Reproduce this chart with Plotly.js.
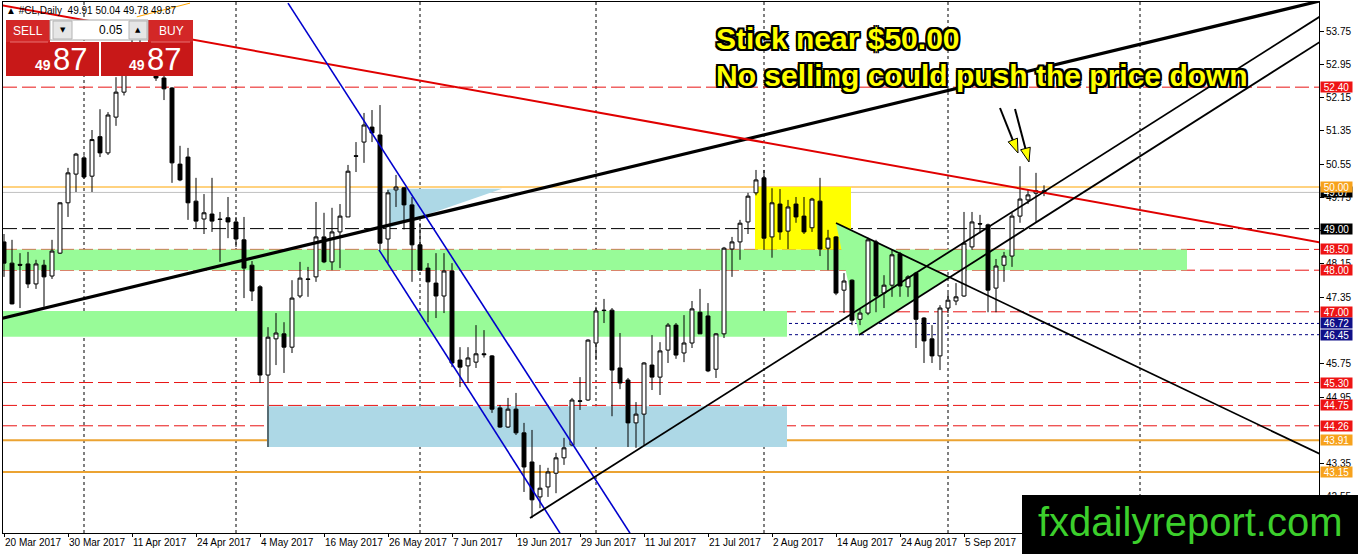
<!DOCTYPE html>
<html><head><meta charset="utf-8">
<script src="https://cdn.plot.ly/plotly-3.0.1.min.js"></script>
<style>html,body{margin:0;padding:0;background:#fff;}#chart{width:1358px;height:554px;}</style>
</head><body><div id="chart"></div>
<script>
// ---------- DATA ----------
const openP = [48.68,48.17,48.14,48.15,47.67,48.12,47.86,48.41,49.62,50.31,50.70,50.26,51.21,50.82,51.68,52.28,53.00,53.40,53.05,53.15,
52.62,52.38,50.55,50.72,49.66,49.23,49.35,49.23,49.26,49.16,48.73,48.12,47.60,45.48,46.35,46.47,46.15,47.38,47.79,47.84,
48.80,48.20,48.92,49.28,50.75,51.08,51.44,51.25,48.75,49.93,49.98,49.57,48.61,48.05,47.69,47.38,47.98,45.84,45.70,45.79,
45.99,45.94,44.69,44.23,44.66,44.09,43.39,42.55,42.79,43.12,43.49,43.80,44.86,44.88,46.25,47.04,47.04,45.65,45.36,44.33,
44.54,45.72,45.43,46.08,46.68,46.01,46.25,46.99,46.90,45.62,46.47,48.51,48.68,49.16,49.86,50.22,48.80,49.59,48.94,49.59,
49.30,49.02,49.66,48.53,48.80,47.52,47.76,46.82,46.97,48.68,47.45,47.64,48.39,47.60,47.93,46.85,46.35,45.94,47.09,47.26,
47.38,48.56,49.12,49.09,47.57,48.12,48.34,49.30,49.69,49.85,49.91];
const highP = [48.87,48.73,48.41,48.44,48.25,48.25,48.73,49.63,50.46,50.82,50.76,51.37,51.87,51.80,52.64,53.12,53.76,53.70,53.35,53.25,
52.70,52.40,50.99,50.94,50.22,49.83,50.22,49.40,49.76,49.28,49.28,48.22,47.64,46.63,46.97,46.75,47.76,48.20,48.08,49.64,
49.38,49.50,49.59,50.53,51.08,51.78,51.85,51.97,49.93,50.29,50.00,49.76,49.13,48.17,48.41,48.41,48.17,46.15,46.15,46.68,
46.56,45.96,44.76,44.93,45.05,44.33,44.16,43.32,43.25,43.61,43.97,44.93,45.43,46.34,47.12,47.31,47.09,46.49,45.41,44.83,
45.79,46.44,46.27,46.73,46.73,46.92,47.26,47.55,47.21,46.49,48.56,48.80,49.21,49.86,50.41,50.41,49.97,49.95,49.69,49.76,
49.76,49.74,50.22,48.97,48.82,47.93,47.78,47.09,48.78,48.73,47.88,48.49,48.44,47.88,47.96,46.87,46.68,47.16,47.45,47.69,
49.40,49.40,49.33,49.12,48.27,48.44,49.38,50.50,49.93,50.34,50.04];
const lowP = [47.84,47.18,47.09,47.57,47.55,47.12,47.79,48.39,49.28,49.88,50.20,49.88,50.72,50.77,51.47,52.20,52.85,52.80,52.85,52.55,
52.09,50.10,50.14,49.21,49.01,48.87,48.92,48.20,48.77,48.56,47.33,47.26,45.29,43.75,45.72,45.53,46.01,47.33,47.36,47.72,
48.17,48.00,48.05,49.28,50.36,50.58,51.08,48.49,48.17,49.52,48.98,47.72,48.00,46.75,46.85,46.97,45.67,45.19,45.29,45.65,
45.90,44.57,44.21,44.21,44.04,42.67,42.04,42.28,42.55,42.64,43.32,43.77,44.64,44.86,45.84,46.73,44.49,45.14,43.75,43.73,
43.80,45.12,45.00,45.77,45.87,45.79,46.13,46.47,45.55,45.41,46.37,47.84,48.25,48.87,49.80,48.49,48.30,48.73,48.51,49.14,
48.87,48.92,48.34,48.00,47.40,46.97,46.68,46.68,46.92,46.99,47.09,47.36,47.36,47.36,46.13,45.77,45.77,45.60,46.97,47.16,
47.36,48.49,48.89,46.99,46.99,47.72,48.08,49.14,49.59,49.16,49.78];
const closeP = [48.17,47.19,48.12,47.67,48.15,47.84,48.46,49.62,50.34,50.79,50.24,51.14,50.82,51.73,52.28,53.00,53.40,53.05,53.20,52.62,
52.36,50.58,50.17,49.62,49.18,49.38,49.18,49.22,49.16,48.75,48.05,47.50,45.48,46.39,46.49,46.15,47.33,47.81,47.78,48.80,
48.20,48.92,49.30,50.38,50.74,51.49,51.30,48.65,49.86,50.00,49.57,48.61,48.00,47.72,47.38,47.98,45.77,45.67,45.89,45.99,
45.97,44.66,44.23,44.66,44.09,43.27,42.48,42.76,43.15,43.49,43.73,44.88,44.85,46.32,47.02,47.03,45.60,45.29,44.33,44.54,
45.77,45.43,46.06,46.68,45.96,46.25,47.07,46.47,45.58,46.47,48.53,48.68,49.13,49.78,50.17,48.77,49.62,48.92,49.52,49.28,
48.92,49.71,48.51,48.77,47.45,47.74,46.80,46.97,48.73,47.38,47.64,48.37,47.62,47.84,46.82,46.30,45.94,47.09,47.28,47.36,
48.65,49.16,49.11,47.52,48.10,48.34,49.30,49.71,49.81,49.91,49.87];

const tickIdx = [0,8,16,24,32,40,48,56,64,72,80,88,96,104,112,120];
const tickLabels = ['20 Mar 2017','30 Mar 2017','11 Apr 2017','24 Apr 2017','4 May 2017','16 May 2017','26 May 2017','7 Jun 2017',
  '19 Jun 2017','29 Jun 2017','11 Jul 2017','21 Jul 2017','2 Aug 2017','14 Aug 2017','24 Aug 2017','5 Sep 2017'];
const monthStartIdx = [10,29,52,74,95,118,142];
const priceTicks = [53.75,52.95,52.15,51.35,50.55,49.75,48.95,48.15,47.35,45.75,44.95,43.35,42.55];

const redLevels = [52.40,48.50,48.00,47.00,45.30,44.75,44.26];
const blackLevels = [49.00];
const navyLevels = [46.72,46.45];
const orangeThin = [50.00];
const orangeThick = [43.91,43.15];
const bidPrice = 49.87;
const lastBar = [49.91,50.04,49.78,49.87];

// zones: green band 1, green band 2, blue box, yellow box
const zoneX0 = [-1,-1,32.875,93.875];
const zoneX1 = [147.875,97.875,97.875,105.875];
const zoneLow = [48.00,46.40,43.75,48.50];
const zoneHigh = [48.50,47.02,44.73,50.00];
const triBlueX = [47.9,62.25,47.9], triBlueY = [49.96,49.96,49.00];
const triGreenX = [104,106.875,118.25], triGreenY = [49.135,46.442,47.85];

// trend lines [x0,y0,x1,y1]
const thickLine = [-1,46.809,165,54.495];
const redLine = [-0.5,54.375,164.5,48.67];
const blueUpper = [35.5,54.42,78.25,41.68];
const blueLower = [46.875,48.49,69.5,41.68];
const riseA = [65.75,42.043,165,54.16];
const riseB = [106.875,46.442,165,53.55];
const fallC = [104,49.135,165,43.535];
const orangeTop = [16.6,54.09,23.25,54.42];
const arrowTails = [[124.5,51.899],[126.375,51.875]];
const arrowTips = [[126.75,50.817],[128.125,50.601]];

// ---------- GEOMETRY ----------
const L=3, T=2, W=1316, H=531;
const X0=-0.125, X1=164.375, Y0=41.683, Y1=54.447;
const fx = px => (px-L)/W, fy = py => (T+H-py)/H;
const xToPx = x => L+(x-X0)/(X1-X0)*W, yToPx = y => T+(Y1-y)/(Y1-Y0)*H;
const pxToX = px => X0+(px-L)/W*(X1-X0), pxToY = py => Y1-(py-T)/H*(Y1-Y0);

const shapes = [];
const hline = (y,color,width,dash) => ({type:'line',xref:'paper',x0:0,x1:1,yref:'y',y0:y,y1:y,line:{color,width,dash},layer:'below'});
const seg = (a,color,width,dash,layer) => ({type:'line',xref:'x',yref:'y',x0:a[0],y0:a[1],x1:a[2],y1:a[3],line:{color,width,dash:dash||'solid'},layer:layer||'above'});
const zoneColors = ['#98fb98','#98fb98','#add8e6','#ffff00'];
zoneX0.forEach((x0,i)=>shapes.push({type:'rect',xref:'x',yref:'y',x0:x0,x1:zoneX1[i],y0:zoneLow[i],y1:zoneHigh[i],fillcolor:zoneColors[i],line:{width:0},layer:'below'}));
const triPath = (xs,ys) => 'M'+xs.map((x,i)=>x+','+ys[i]).join('L')+'Z';
shapes.push({type:'path',xref:'x',yref:'y',path:triPath(triBlueX,triBlueY),fillcolor:'#add8e6',line:{width:0},layer:'below'});
shapes.push({type:'path',xref:'x',yref:'y',path:triPath(triGreenX,triGreenY),fillcolor:'#98fb98',line:{width:0},layer:'below'});
monthStartIdx.forEach(x=>shapes.push({type:'line',xref:'x',x0:x,x1:x,yref:'paper',y0:0,y1:1,line:{color:'#000',width:1,dash:'3px,3px'},layer:'below'}));
redLevels.forEach(y=>shapes.push(hline(y,'#e81414',1,'14px,5px')));
blackLevels.forEach(y=>shapes.push(hline(y,'#000',1,'14px,5px')));
navyLevels.forEach(y=>shapes.push(hline(y,'#000080',1,'3px,3px')));
orangeThin.forEach(y=>shapes.push(hline(y,'#ffa500',1,'solid')));
orangeThick.forEach(y=>shapes.push(hline(y,'#eba332',2,'solid')));
shapes.push(hline(bidPrice,'#c0c0c0',1,'solid'));

shapes.push(seg(thickLine,'#000',3.2));
shapes.push(seg(redLine,'#e00000',2));
shapes.push(seg(blueUpper,'#0000cd',1.6));
shapes.push(seg(blueLower,'#0000cd',1.6));
shapes.push(seg(riseA,'#000',1.8));
shapes.push(seg(riseB,'#000',1.8));
shapes.push(seg(fallC,'#000',1.8));
shapes.push(seg(orangeTop,'#ffa500',1));

// arrows with yellow heads
arrowTails.forEach((t,i)=>{
  const tip = arrowTips[i];
  const tx=xToPx(t[0]), ty=yToPx(t[1]), px=xToPx(tip[0]), py=yToPx(tip[1]);
  const len=Math.hypot(px-tx,py-ty), ux=(px-tx)/len, uy=(py-ty)/len;
  const bx=px-14*ux, by=py-14*uy, nx=-uy*5, ny=ux*5;
  shapes.push({type:'line',xref:'x',yref:'y',x0:t[0],y0:t[1],x1:pxToX(bx),y1:pxToY(by),line:{color:'#000',width:2},layer:'above'});
  const pts=[[px,py],[bx+nx,by+ny],[bx-nx,by-ny]];
  shapes.push({type:'path',xref:'x',yref:'y',path:'M'+pts.map(p=>pxToX(p[0])+','+pxToY(p[1])).join('L')+'Z',fillcolor:'#ffff00',line:{color:'#000',width:1},layer:'above'});
});

// trading panel
const rectPx = (x0,y0,x1,y1,fill,lc) => ({type:'rect',xref:'paper',yref:'paper',x0:fx(x0),x1:fx(x1),y0:fy(y1),y1:fy(y0),fillcolor:fill,line:{color:lc||fill,width:lc?1:0},layer:'above'});
shapes.push(rectPx(6,20,50,42,'#d32727'));
shapes.push(rectPx(148,20,193,42,'#d32727'));
shapes.push(rectPx(6,42,99,76,'#c81818'));
shapes.push(rectPx(101,42,193,76,'#c81818'));
shapes.push(rectPx(10,41.5,48,42.5,'#e87070'));
shapes.push(rectPx(151,41.5,190,42.5,'#e87070'));
shapes.push(rectPx(50,20,148,40,'#ffffff','#a8a8a8'));
shapes.push(rectPx(53,21,72,39,'#e6e6e6','#b4b4b4'));
shapes.push(rectPx(129,21,147,39,'#e6e6e6','#b4b4b4'));
// logo box
shapes.push(rectPx(1022,495,1358,554,'#000000'));

// ---------- ANNOTATIONS ----------
const ann = [];
const labelFont = {family:'Liberation Sans, Arial, sans-serif',size:10,color:'#fff'};
const lvlLabel = (y,bg) => ({xref:'paper',x:1,xanchor:'left',xshift:1,yref:'y',y:y,text:y.toFixed(2),showarrow:false,bgcolor:bg,font:labelFont,borderpad:0,width:31,height:10});
ann.push(lvlLabel(bidPrice,'#000000'));
redLevels.forEach(y=>ann.push(lvlLabel(y,'#ee1414')));
blackLevels.forEach(y=>ann.push(lvlLabel(y,'#000000')));
navyLevels.forEach(y=>ann.push(lvlLabel(y,'#101088')));
orangeThin.concat(orangeThick).forEach(y=>ann.push(lvlLabel(y,'#f7a21c')));

const pAnn = (x,y,text,font,xanchor) => ({xref:'paper',yref:'paper',x:fx(x),y:fy(y),xanchor:xanchor||'left',yanchor:'middle',text,showarrow:false,font,borderpad:0});
const sans = 'Liberation Sans, Arial, sans-serif';
ann.push(pAnn(5,11,'▲ #CL,Daily  '+lastBar.map(v=>v.toFixed(2)).join(' '),{family:'Liberation Sans, DejaVu Sans, sans-serif',size:10,color:'#000'}));
ann.push(pAnn(28,31,'SELL',{family:sans,size:12,color:'#fff'},'center'));
ann.push(pAnn(171,31,'BUY',{family:sans,size:12,color:'#fff'},'center'));
ann.push(pAnn(124,30,'0.05',{family:sans,size:12,color:'#000'},'right'));
ann.push(pAnn(62.5,30,'▼',{family:'DejaVu Sans, sans-serif',size:7,color:'#000'},'center'));
ann.push(pAnn(138,30,'▲',{family:'DejaVu Sans, sans-serif',size:7,color:'#000'},'center'));
const sellPx = closeP[closeP.length-1].toFixed(2).split('.');
ann.push(pAnn(34,65,sellPx[0],{family:sans,size:14,color:'#fff',weight:700}));
ann.push(pAnn(52,59,sellPx[1],{family:sans,size:31,color:'#fff'}));
ann.push(pAnn(128,65,sellPx[0],{family:sans,size:14,color:'#fff',weight:700}));
ann.push(pAnn(146,59,sellPx[1],{family:sans,size:31,color:'#fff'}));

const outline = '2px 0 0 #000, -2px 0 0 #000, 0 2px 0 #000, 0 -2px 0 #000, 2px 2px 0 #000, -2px -2px 0 #000, 2px -2px 0 #000, -2px 2px 0 #000';
const bigFont = {family:sans,size:30,color:'#ffff00',weight:700,shadow:outline};
ann.push(pAnn(715,39,'Stick near $50.00',bigFont));
ann.push(pAnn(715,75,'No selling could push the price down',bigFont));
ann.push(pAnn(1037,522,'fxdailyreport.com',{family:sans,size:40,color:'#3ccf2c'}));

// ---------- PLOT ----------
const trace = {
  type:'candlestick', x: openP.map((_,i)=>i), open:openP, high:highP, low:lowP, close:closeP,
  increasing:{line:{color:'#000',width:1},fillcolor:'#ffffff'},
  decreasing:{line:{color:'#000',width:1},fillcolor:'#000000'},
  whiskerwidth:0, hoverinfo:'skip', showlegend:false
};
const layout = {
  width:1358, height:554, margin:{l:L,r:39,t:T,b:21,pad:0},
  paper_bgcolor:'#fff', plot_bgcolor:'#fff', showlegend:false, dragmode:false,
  xaxis:{range:[X0,X1],tickvals:tickIdx,ticktext:tickLabels,ticks:'outside',ticklen:3,tickcolor:'#000',tickangle:0,automargin:false,
    ticklabelposition:'outside right',tickfont:{family:sans,size:10,color:'#000'},
    showgrid:false,zeroline:false,showline:true,linecolor:'#000',linewidth:1,mirror:true,rangeslider:{visible:false},fixedrange:true},
  yaxis:{range:[Y0,Y1],side:'right',tickvals:priceTicks,ticktext:priceTicks.map(v=>v.toFixed(2)),ticks:'outside',ticklen:4,tickcolor:'#000',automargin:false,
    tickfont:{family:sans,size:10,color:'#000'},
    showgrid:false,zeroline:false,showline:true,linecolor:'#000',linewidth:1,mirror:true,fixedrange:true},
  shapes, annotations:ann
};
Plotly.newPlot('chart',[trace],layout,{displayModeBar:false,staticPlot:true});
</script></body></html>
